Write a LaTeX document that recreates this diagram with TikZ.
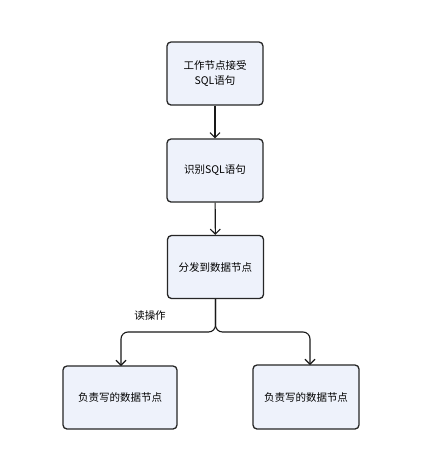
\documentclass[tikz,border=0pt]{standalone}
\usepackage{fontspec}
\setmainfont{Noto Sans CJK SC}
\usetikzlibrary{arrows.meta}
\begin{document}
\begin{tikzpicture}[x=1pt,y=-1pt,
  box/.style={draw=black!85, line width=1.3pt, rounded corners=4pt, fill=boxfill,
    minimum width=96pt, minimum height=63pt, align=center, font=\fontsize{10.5pt}{15pt}\selectfont, inner sep=2pt},
  conn/.style={draw=black!90, line width=1.1pt, -{Straight Barb[length=5pt,width=10pt,line width=1.1pt]}}]
\definecolor{boxfill}{HTML}{EEF2FB}
\useasboundingbox[fill=white] (0,0) rectangle (427,459);
\node[box] (b1) at (215,73.5) {工作节点接受\\SQL语句};
\node[box] (b2) at (215,170.5) {识别SQL语句};
\node[box] (b3) at (215.5,267) {分发到数据节点};
\node[box, minimum width=114pt, minimum height=63pt] (b4) at (120,397.5) {负责写的数据节点};
\node[box, minimum width=106pt, minimum height=64pt] (b5) at (306,397) {负责写的数据节点};
\coordinate (t4) at (121,366);
\coordinate (t5) at (310,365);
\draw[conn] (b1) -- (b2);
\draw[conn] (b2) -- (b3);
\draw[conn, rounded corners=7pt] (b3.south) |- ([yshift=34pt]t4) -- (t4);
\draw[conn, rounded corners=7pt] (b3.south) |- ([yshift=33pt]t5) -- (t5);
\node[font=\fontsize{10.5pt}{12pt}\selectfont] (lbl) at (150,316) {读操作};
\end{tikzpicture}
\end{document}
